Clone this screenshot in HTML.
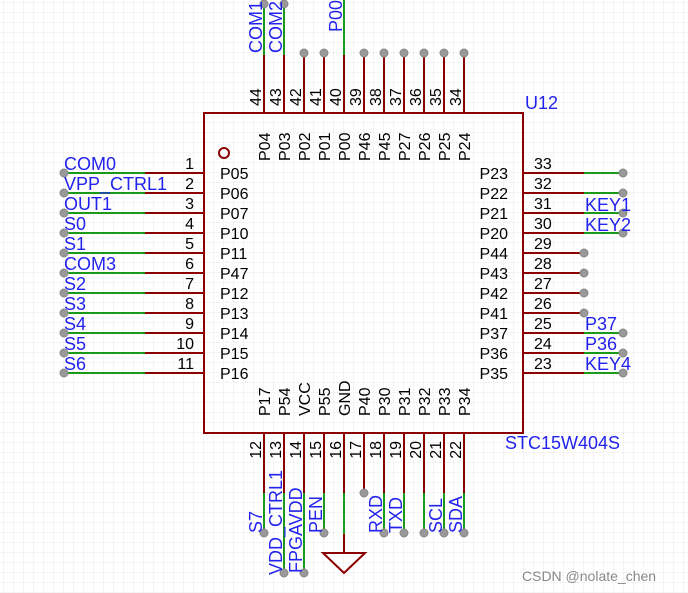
<!DOCTYPE html>
<html><head><meta charset="utf-8"><style>
html,body{margin:0;padding:0;background:#fff;}
svg{display:block;}
text{font-family:"Liberation Sans",sans-serif;}
.n{font-size:16px;fill:#000;}
.b{font-size:18px;fill:#2222ee;}
.r{stroke:#8b0000;stroke-width:2;fill:none;}
.g{stroke:#1a9a1a;stroke-width:2;fill:none;}
.d{fill:#999;stroke:#888;stroke-width:1;}
</style></head><body>
<svg width="688" height="593" viewBox="0 0 688 593" xmlns="http://www.w3.org/2000/svg">
<defs>
<pattern id="grid" x="4" y="3" width="10" height="10" patternUnits="userSpaceOnUse">
<path d="M10 0V10M0 10H10" stroke="#e8e8e8" stroke-width="1" fill="none"/>
</pattern>
</defs>
<rect width="688" height="593" fill="url(#grid)"/>

<rect x="204" y="113" width="319" height="320" class="r" fill="#fff"/>
<circle cx="224" cy="153" r="5" class="r"/>
<text x="525" y="109" class="b" font-size="16">U12</text>
<text x="505" y="449" class="b" font-size="16">STC15W404S</text>
<text x="522" y="581" font-size="14" fill="#888">CSDN @nolate_chen</text>

<!-- LEFT pins -->
<g>
<path class="r" d="M145 173H204M145 193H204M145 213H204M145 233H204M145 253H204M145 273H204M145 293H204M145 313H204M145 333H204M145 353H204M145 373H204"/>
<path class="g" d="M64 173H145M64 193H145M64 213H145M64 233H145M64 253H145M64 273H145M64 293H145M64 313H145M64 333H145M64 353H145M64 373H145"/>
<g class="d"><circle cx="64" cy="173" r="4"/><circle cx="64" cy="193" r="4"/><circle cx="64" cy="213" r="4"/><circle cx="64" cy="233" r="4"/><circle cx="64" cy="253" r="4"/><circle cx="64" cy="273" r="4"/><circle cx="64" cy="293" r="4"/><circle cx="64" cy="313" r="4"/><circle cx="64" cy="333" r="4"/><circle cx="64" cy="353" r="4"/><circle cx="64" cy="373" r="4"/></g>
<g class="b"><text x="64" y="170">COM0</text><text x="64" y="190">VPP_CTRL1</text><text x="64" y="210">OUT1</text><text x="64" y="230">S0</text><text x="64" y="250">S1</text><text x="64" y="270">COM3</text><text x="64" y="290">S2</text><text x="64" y="310">S3</text><text x="64" y="330">S4</text><text x="64" y="350">S5</text><text x="64" y="370">S6</text></g>
<g class="n" text-anchor="end"><text x="194" y="169">1</text><text x="194" y="189">2</text><text x="194" y="209">3</text><text x="194" y="229">4</text><text x="194" y="249">5</text><text x="194" y="269">6</text><text x="194" y="289">7</text><text x="194" y="309">8</text><text x="194" y="329">9</text><text x="194" y="349">10</text><text x="194" y="369">11</text></g>
<g class="n" font-size="17.5"><text x="220" y="179">P05</text><text x="220" y="199">P06</text><text x="220" y="219">P07</text><text x="220" y="239">P10</text><text x="220" y="259">P11</text><text x="220" y="279">P47</text><text x="220" y="299">P12</text><text x="220" y="319">P13</text><text x="220" y="339">P14</text><text x="220" y="359">P15</text><text x="220" y="379">P16</text></g>
</g>

<!-- RIGHT pins -->
<g>
<path class="r" d="M523 173H584M523 193H584M523 213H584M523 233H584M523 253H584M523 273H584M523 293H584M523 313H584M523 333H584M523 353H584M523 373H584"/>
<path class="g" d="M584 173H623M584 193H623M584 213H623M584 233H623M584 333H623M584 353H623M584 373H623"/>
<g class="d"><circle cx="623" cy="173" r="4"/><circle cx="623" cy="193" r="4"/><circle cx="623" cy="213" r="4"/><circle cx="623" cy="233" r="4"/><circle cx="584" cy="253" r="4"/><circle cx="584" cy="273" r="4"/><circle cx="584" cy="293" r="4"/><circle cx="584" cy="313" r="4"/><circle cx="623" cy="333" r="4"/><circle cx="623" cy="353" r="4"/><circle cx="623" cy="373" r="4"/></g>
<g class="n"><text x="534" y="169">33</text><text x="534" y="189">32</text><text x="534" y="209">31</text><text x="534" y="229">30</text><text x="534" y="249">29</text><text x="534" y="269">28</text><text x="534" y="289">27</text><text x="534" y="309">26</text><text x="534" y="329">25</text><text x="534" y="349">24</text><text x="534" y="369">23</text></g>
<g class="n" font-size="17.5" text-anchor="end"><text x="508" y="179">P23</text><text x="508" y="199">P22</text><text x="508" y="219">P21</text><text x="508" y="239">P20</text><text x="508" y="259">P44</text><text x="508" y="279">P43</text><text x="508" y="299">P42</text><text x="508" y="319">P41</text><text x="508" y="339">P37</text><text x="508" y="359">P36</text><text x="508" y="379">P35</text></g>
<g class="b"><text x="585" y="211">KEY1</text><text x="585" y="231">KEY2</text><text x="585" y="330">P37</text><text x="585" y="350">P36</text><text x="585" y="370">KEY4</text></g>
</g>

<!-- TOP pins -->
<g>
<path class="r" d="M264 55V113M284 55V113M304 53V113M324 53V113M344 55V113M364 53V113M384 53V113M404 53V113M424 53V113M444 53V113M464 53V113"/>
<path class="g" d="M264 4V55M284 4V55M344 0V55"/>
<g class="d"><circle cx="264" cy="4" r="4"/><circle cx="284" cy="4" r="4"/><circle cx="304" cy="53" r="4"/><circle cx="324" cy="53" r="4"/><circle cx="364" cy="53" r="4"/><circle cx="384" cy="53" r="4"/><circle cx="404" cy="53" r="4"/><circle cx="424" cy="53" r="4"/><circle cx="444" cy="53" r="4"/><circle cx="464" cy="53" r="4"/></g>
<g class="b">
<text transform="translate(262,53) rotate(-90)">COM1</text>
<text transform="translate(282,53) rotate(-90)">COM2</text>
<text transform="translate(342,32) rotate(-90)">P00</text>
</g>
<g class="n">
<text transform="translate(261,106) rotate(-90)">44</text><text transform="translate(281,106) rotate(-90)">43</text><text transform="translate(301,106) rotate(-90)">42</text><text transform="translate(321,106) rotate(-90)">41</text><text transform="translate(341,106) rotate(-90)">40</text><text transform="translate(361,106) rotate(-90)">39</text><text transform="translate(381,106) rotate(-90)">38</text><text transform="translate(401,106) rotate(-90)">37</text><text transform="translate(421,106) rotate(-90)">36</text><text transform="translate(441,106) rotate(-90)">35</text><text transform="translate(461,106) rotate(-90)">34</text>
</g>
<g class="n" font-size="17.5">
<text transform="translate(270,161) rotate(-90)">P04</text><text transform="translate(290,161) rotate(-90)">P03</text><text transform="translate(310,161) rotate(-90)">P02</text><text transform="translate(330,161) rotate(-90)">P01</text><text transform="translate(350,161) rotate(-90)">P00</text><text transform="translate(370,161) rotate(-90)">P46</text><text transform="translate(390,161) rotate(-90)">P45</text><text transform="translate(410,161) rotate(-90)">P27</text><text transform="translate(430,161) rotate(-90)">P26</text><text transform="translate(450,161) rotate(-90)">P25</text><text transform="translate(470,161) rotate(-90)">P24</text>
</g>
</g>

<!-- BOTTOM pins -->
<g>
<path class="r" d="M264 433V493M284 433V493M304 433V493M324 433V493M344 433V493M364 433V493M384 433V493M404 433V493M424 433V493M444 433V493M464 433V493"/>
<path class="g" d="M264 493V533M284 493V573M304 493V573M324 493V533M344 493V534M384 493V533M404 493V533M424 493V533M444 493V533M464 493V533"/>
<path class="r" d="M344 534V553M323 553H365L344 573Z"/>
<g class="d"><circle cx="264" cy="533" r="4"/><circle cx="284" cy="573" r="4"/><circle cx="304" cy="573" r="4"/><circle cx="324" cy="533" r="4"/><circle cx="364" cy="493" r="4"/><circle cx="384" cy="533" r="4"/><circle cx="404" cy="533" r="4"/><circle cx="424" cy="533" r="4"/><circle cx="444" cy="533" r="4"/><circle cx="464" cy="533" r="4"/></g>
<g class="n" text-anchor="end">
<text transform="translate(261,441) rotate(-90)">12</text><text transform="translate(281,441) rotate(-90)">13</text><text transform="translate(301,441) rotate(-90)">14</text><text transform="translate(321,441) rotate(-90)">15</text><text transform="translate(341,441) rotate(-90)">16</text><text transform="translate(361,441) rotate(-90)">17</text><text transform="translate(381,441) rotate(-90)">18</text><text transform="translate(401,441) rotate(-90)">19</text><text transform="translate(421,441) rotate(-90)">20</text><text transform="translate(441,441) rotate(-90)">21</text><text transform="translate(461,441) rotate(-90)">22</text>
</g>
<g class="n" font-size="17.5">
<text transform="translate(270,416) rotate(-90)">P17</text><text transform="translate(290,416) rotate(-90)">P54</text><text transform="translate(310,416) rotate(-90)">VCC</text><text transform="translate(330,416) rotate(-90)">P55</text><text transform="translate(350,416) rotate(-90)">GND</text><text transform="translate(370,416) rotate(-90)">P40</text><text transform="translate(390,416) rotate(-90)">P30</text><text transform="translate(410,416) rotate(-90)">P31</text><text transform="translate(430,416) rotate(-90)">P32</text><text transform="translate(450,416) rotate(-90)">P33</text><text transform="translate(470,416) rotate(-90)">P34</text>
</g>
<g class="b">
<text transform="translate(262,533) rotate(-90)">S7</text>
<text transform="translate(282,575) rotate(-90)">VDD_CTRL1</text>
<text transform="translate(302,573) rotate(-90)">FPGAVDD</text>
<text transform="translate(322,533) rotate(-90)">PEN</text>
<text transform="translate(382,533) rotate(-90)">RXD</text>
<text transform="translate(402,533) rotate(-90)">TXD</text>
<text transform="translate(442,533) rotate(-90)">SCL</text>
<text transform="translate(462,533) rotate(-90)">SDA</text>
</g>
</g>
</svg>
</body></html>
